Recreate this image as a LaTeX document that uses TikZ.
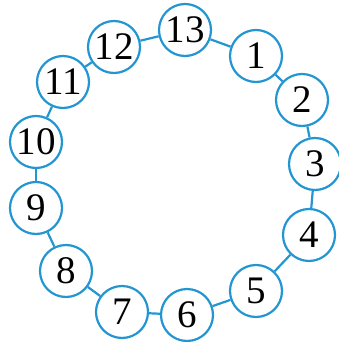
\documentclass[tikz,border=0pt]{standalone}
\usepackage{fontspec}
\setmainfont{Liberation Serif}
\definecolor{ringblue}{RGB}{35,150,210}
\begin{document}
\begin{tikzpicture}[x=1pt,y=-1pt,
  num/.style={circle,draw=ringblue,line width=2.2pt,minimum size=52pt,inner sep=0pt,fill=white,
    font=\fontsize{39}{39}\selectfont},
  link/.style={draw=ringblue,line width=2.2pt}]
\useasboundingbox (0,0) rectangle (339,342);
\node[num] (n1) at (256,56) {1};
\node[num] (n2) at (302,100) {2};
\node[num] (n3) at (315,164) {3};
\node[num] (n4) at (309,235) {4};
\node[num] (n5) at (256,291) {5};
\node[num] (n6) at (187,315) {6};
\node[num] (n7) at (122,312) {7};
\node[num] (n8) at (66,271) {8};
\node[num] (n9) at (36,208) {9};
\node[num] (n10) at (36,142) {10};
\node[num] (n11) at (63,82) {11};
\node[num] (n12) at (114,47) {12};
\node[num] (n13) at (185,30) {13};
\foreach \a/\b in {1/2,2/3,3/4,4/5,5/6,6/7,7/8,8/9,9/10,10/11,11/12,12/13,13/1}
  \draw[link] (n\a) -- (n\b);
\end{tikzpicture}
\end{document}
